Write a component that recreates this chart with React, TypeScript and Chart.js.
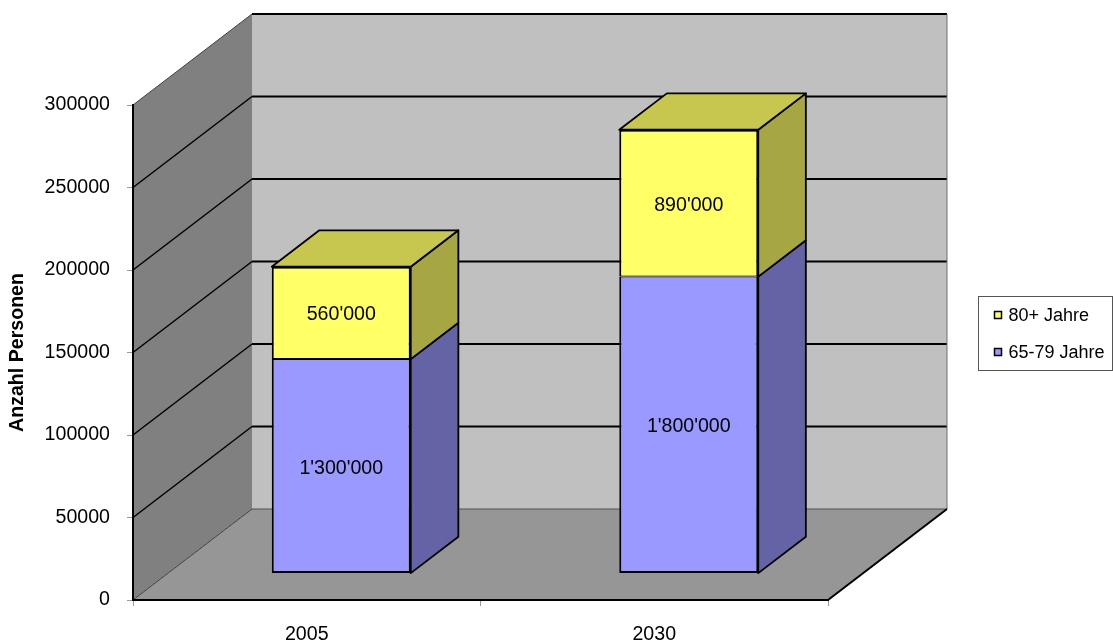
import React, { useEffect, useRef } from 'react';
import { Chart, registerables } from 'chart.js';

Chart.register(...registerables);

// ---- data ----
const categories = ['2005', '2030'];
const seriesNames = ['65-79 Jahre', '80+ Jahre'];
const age65to79 = [130000, 180000];
const age80plus = [56000, 89000];
const age65to79Labels = ["1'300'000", "1'800'000"];
const age80plusLabels = ["560'000", "890'000"];
const yMin = 0;
const yMax = 300000;
const yStep = 50000;
const yAxisTitle = 'Anzahl Personen';

// ---- style ----
const FONT = '"Liberation Sans", Arial, sans-serif';
const FS = 19.6;
const WALL_DX = 119;
const WALL_DY = -91;
const BAR_Z0 = 0.29;
const BAR_Z1 = 0.69;
const C = {
  back: '#C0C0C0',
  side: '#808080',
  floor: '#969696',
  blue: '#9999FF',
  blueTop: '#7777C7',
  blueSide: '#6363A6',
  yellow: '#FFFF66',
  yellowTop: '#C7C750',
  yellowSide: '#A6A642',
};
const topColors = [C.blueTop, C.yellowTop];
const sideColors = [C.blueSide, C.yellowSide];
const barLabels = [age65to79Labels, age80plusLabels];

function poly(ctx: CanvasRenderingContext2D, pts: number[][], fill?: string, stroke?: string, lw = 1) {
  ctx.beginPath();
  ctx.moveTo(pts[0][0], pts[0][1]);
  for (let i = 1; i < pts.length; i++) ctx.lineTo(pts[i][0], pts[i][1]);
  ctx.closePath();
  if (fill) { ctx.fillStyle = fill; ctx.fill(); }
  if (stroke) { ctx.strokeStyle = stroke; ctx.lineWidth = lw; ctx.stroke(); }
}
function line(ctx: CanvasRenderingContext2D, x1: number, y1: number, x2: number, y2: number, color: string, lw: number) {
  ctx.beginPath();
  ctx.moveTo(x1, y1);
  ctx.lineTo(x2, y2);
  ctx.strokeStyle = color;
  ctx.lineWidth = lw;
  ctx.stroke();
}

const threeD = {
  id: 'threeD',
  beforeDraw(chart: any) {
    const { ctx, chartArea: a, scales } = chart;
    const y = scales.y;
    const L = a.left, R = a.right;
    const T = y.getPixelForValue(yMax), B = y.getPixelForValue(yMin);
    const dx = WALL_DX, dy = WALL_DY;
    ctx.save();
    ctx.lineJoin = 'round';
    poly(ctx, [[L + dx, T + dy], [R + dx, T + dy], [R + dx, B + dy], [L + dx, B + dy]], C.back);
    poly(ctx, [[L, T], [L + dx, T + dy], [L + dx, B + dy], [L, B]], C.side);
    poly(ctx, [[L, B], [R, B], [R + dx, B + dy], [L + dx, B + dy]], C.floor);
    for (let v = yMin + yStep; v <= yMax; v += yStep) {
      const py = y.getPixelForValue(v);
      line(ctx, L + dx, py + dy, R + dx, py + dy, '#000', 2);
      if (v < yMax) line(ctx, L, py, L + dx, py + dy, '#000', 1.5);
    }
    line(ctx, R + dx, T + dy, R + dx, B + dy, '#707070', 1);
    line(ctx, L + dx, B + dy, R + dx, B + dy, '#505050', 1);
    line(ctx, L, T, L + dx, T + dy, '#404040', 1);
    line(ctx, L, B, L + dx, B + dy, '#404040', 1);
    line(ctx, R, B, R + dx, B + dy, '#000', 2);
    ctx.restore();
  },
  beforeDatasetsDraw(chart: any) {
    chart.ctx.save();
    chart.ctx.translate(WALL_DX * BAR_Z0, WALL_DY * BAR_Z0);
  },
  afterDatasetsDraw(chart: any) {
    const ctx = chart.ctx;
    ctx.restore();
    const ox = WALL_DX * BAR_Z0, oy = WALL_DY * BAR_Z0;
    const sx = WALL_DX * (BAR_Z1 - BAR_Z0), sy = WALL_DY * (BAR_Z1 - BAR_Z0);
    const n = chart.data.datasets.length;
    ctx.save();
    ctx.lineJoin = 'round';
    for (let i = 0; i < n; i++) {
      const meta = chart.getDatasetMeta(i);
      meta.data.forEach((bar: any) => {
        const p = bar.getProps(['x', 'y', 'base', 'width'], true);
        const l = p.x - p.width / 2 + ox;
        const r = p.x + p.width / 2 + ox;
        const t = Math.min(p.y, p.base) + oy;
        const b = Math.max(p.y, p.base) + oy;
        poly(ctx, [[r, t], [r + sx, t + sy], [r + sx, b + sy], [r, b]], sideColors[i], '#000', 1.8);
        if (i === n - 1) {
          poly(ctx, [[l, t], [l + sx, t + sy], [r + sx, t + sy], [r, t]], topColors[i], '#000', 1.8);
        }
      });
    }
    ctx.fillStyle = '#000';
    ctx.font = `${FS}px ${FONT}`;
    ctx.textAlign = 'center';
    ctx.textBaseline = 'middle';
    for (let i = 0; i < n; i++) {
      const meta = chart.getDatasetMeta(i);
      meta.data.forEach((bar: any, j: number) => {
        const p = bar.getProps(['x', 'y', 'base'], true);
        ctx.fillText(barLabels[i][j], p.x + ox, (p.y + p.base) / 2 + oy + 2);
      });
    }
    ctx.restore();
  },
  afterDraw(chart: any) {
    const ctx = chart.ctx;
    const bx = 978.5, by = 296.5, bw = 134, bh = 74;
    ctx.save();
    ctx.fillStyle = '#fff';
    ctx.fillRect(bx, by, bw, bh);
    ctx.strokeStyle = '#555';
    ctx.lineWidth = 1;
    ctx.strokeRect(bx, by, bw, bh);
    const ds = chart.data.datasets;
    const order = [1, 0];
    ctx.font = `18px ${FONT}`;
    ctx.textBaseline = 'middle';
    ctx.textAlign = 'left';
    order.forEach((di, k) => {
      const cy = by + 18.5 + k * 37;
      ctx.fillStyle = ds[di].backgroundColor;
      ctx.fillRect(bx + 16, cy - 3.5, 7, 7);
      ctx.strokeStyle = '#000';
      ctx.lineWidth = 1.5;
      ctx.strokeRect(bx + 16, cy - 3.5, 7, 7);
      ctx.fillStyle = '#000';
      ctx.fillText(ds[di].label, bx + 30, cy + 1);
    });
    ctx.restore();
  },
};

export default function App() {
  const ref = useRef<HTMLCanvasElement | null>(null);
  useEffect(() => {
    document.body.style.margin = '0';
    const canvas = ref.current;
    if (!canvas) return;
    const chart = new Chart(canvas, {
      type: 'bar',
      data: {
        labels: categories,
        datasets: [
          {
            label: seriesNames[0],
            data: age65to79,
            backgroundColor: C.blue,
            borderColor: '#000',
            borderWidth: { left: 2, right: 2, bottom: 2, top: 1 },
            borderSkipped: false,
          },
          {
            label: seriesNames[1],
            data: age80plus,
            backgroundColor: C.yellow,
            borderColor: '#000',
            borderWidth: { left: 2, right: 2, bottom: 1, top: 2 },
            borderSkipped: false,
          },
        ],
      } as any,
      options: {
        responsive: false,
        animation: false,
        devicePixelRatio: 1,
        barPercentage: 0.4,
        categoryPercentage: 1,
        layout: { padding: { top: 105, right: 285, bottom: 0, left: 0 } },
        plugins: { legend: { display: false }, tooltip: { enabled: false } },
        scales: {
          x: {
            stacked: true,
            grid: { drawOnChartArea: false, drawTicks: true, tickLength: 6, color: '#999' },
            border: { display: true, color: '#000', width: 2 },
            ticks: { font: { family: FONT, size: FS }, color: '#000', padding: 17, maxRotation: 0 },
            afterFit: (s: any) => { s.height = 44; },
          },
          y: {
            stacked: true,
            min: yMin,
            max: yMax,
            grid: { drawOnChartArea: false, drawTicks: true, tickLength: 6, color: '#999' },
            border: { display: true, color: '#000', width: 2 },
            ticks: {
              stepSize: yStep,
              font: { family: FONT, size: FS },
              color: '#000',
              padding: 17,
              callback: (v: any) => String(v),
            },
            title: {
              display: true,
              text: yAxisTitle,
              color: '#000',
              font: { family: FONT, size: FS, weight: 'bold' },
              padding: { top: 6, bottom: 0 },
            },
            afterFit: (s: any) => { s.width = 133; },
          },
        },
      } as any,
      plugins: [threeD],
    });
    return () => chart.destroy();
  }, []);
  return (
    <div style={{ position: 'absolute', left: 0, top: 0, width: 1113, height: 644 }}>
      <canvas ref={ref} width={1113} height={644} style={{ display: 'block' }} />
    </div>
  );
}
